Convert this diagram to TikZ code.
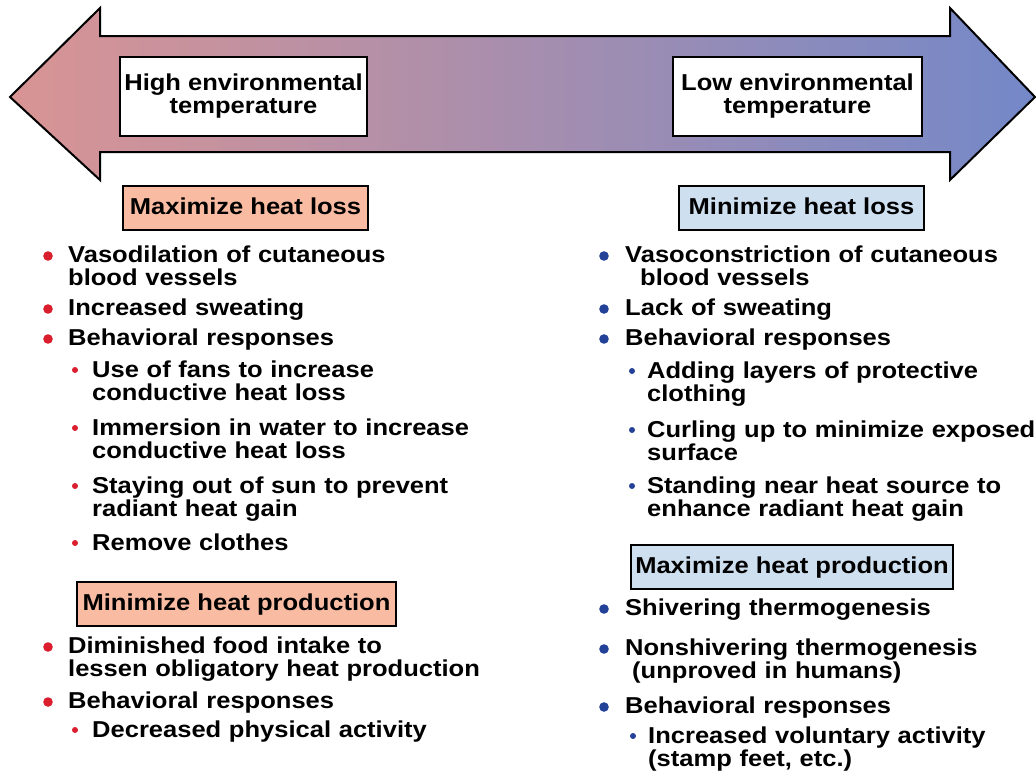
\documentclass[tikz,border=0pt]{standalone}
\usepackage{fontspec}
\setmainfont[FakeStretch=1.11]{Liberation Sans}
\definecolor{warmpink}{RGB}{217,148,148}
\definecolor{lavender}{RGB}{184,160,204}
\definecolor{coolblue}{RGB}{116,136,200}
\definecolor{salmonbox}{RGB}{249,187,162}
\definecolor{icebox}{RGB}{206,223,240}
\definecolor{hotdot}{RGB}{218,30,45}
\definecolor{colddot}{RGB}{35,65,150}
\tikzset{%
  tempbox/.style  = {draw, line width=2pt, fill=white, align=center,%
                     inner sep=0pt, minimum height=79pt},%
  headbox/.style  = {draw, line width=2pt, inner sep=0pt,%
                     text height=17pt, text depth=4pt, minimum height=44pt},%
  hothead/.style  = {headbox, fill=salmonbox},%
  coldhead/.style = {headbox, fill=icebox},%
  entry/.style    = {anchor=base west, inner sep=0pt, text width=420pt, align=left},%
  bigdot/.style   = {radius=4.8pt},%
  smalldot/.style = {radius=3pt}%
}

\begin{document}
\begin{tikzpicture}[x=1pt,y=-1pt,every node/.style={font=\fontsize{23pt}{23pt}\selectfont\bfseries}]
		\useasboundingbox (0,0) rectangle (1036,774);
		% the temperature arrow
		\draw[line width=2pt, left color=warmpink, middle color=lavender, right color=coolblue]
			(10,97) -- (100,8) -- (100,36) -- (950,36) -- (950,8) -- (1035,97)
			-- (950,180) -- (950,152) -- (100,152) -- (100,180) -- cycle;
		\node[tempbox, minimum width=247pt] (high) at (243.5,96.5) {High environmental\\temperature};
		\node[tempbox, minimum width=249pt] (low) at (797.5,96.5) {Low environmental\\temperature};
		% hot side
		\node[hothead, minimum width=245pt] (maxloss) at (245.5,208) {Maximize heat loss};
		\node[entry] (h1) at (68,262) {Vasodilation of cutaneous\\blood vessels};
		\node[entry] (h2) at (68,315) {Increased sweating};
		\node[entry] (h3) at (68,345) {Behavioral responses};
		\node[entry] (h3a) at (92,377) {Use of fans to increase\\conductive heat loss};
		\node[entry] (h3b) at (92,435) {Immersion in water to increase\\conductive heat loss};
		\node[entry] (h3c) at (92,493) {Staying out of sun to prevent\\radiant heat gain};
		\node[entry] (h3d) at (92,550) {Remove clothes};
		\node[hothead, minimum width=319pt] (minprod) at (236.5,603.5) {Minimize heat production};
		\node[entry] (h4) at (68,653) {Diminished food intake to\\lessen obligatory heat production};
		\node[entry] (h5) at (68,708) {Behavioral responses};
		\node[entry] (h5a) at (92,737) {Decreased physical activity};
		\foreach \n in {h1,h2,h3,h4,h5}
			\fill[hotdot] (\n.base west) ++(-20,-6) circle[bigdot];
		\foreach \n in {h3a,h3b,h3c,h3d,h5a}
			\fill[hotdot] (\n.base west) ++(-17,-7) circle[smalldot];
		% cold side
		\node[coldhead, minimum width=245pt] (minloss) at (801.5,208) {Minimize heat loss};
		\node[entry] (c1) at (625,262) {Vasoconstriction of cutaneous\\\hspace*{15pt}blood vessels};
		\node[entry] (c2) at (625,315) {Lack of sweating};
		\node[entry] (c3) at (625,345) {Behavioral responses};
		\node[entry] (c3a) at (647,378) {Adding layers of protective\\clothing};
		\node[entry] (c3b) at (647,437) {Curling up to minimize exposed\\surface};
		\node[entry] (c3c) at (647,493) {Standing near heat source to\\enhance radiant heat gain};
		\node[coldhead, minimum width=322pt] (maxprod) at (792,566.5) {Maximize heat production};
		\node[entry] (c4) at (625,615) {Shivering thermogenesis};
		\node[entry] (c5) at (625,655) {Nonshivering thermogenesis\\\hspace*{7pt}(unproved in humans)};
		\node[entry] (c6) at (625,713) {Behavioral responses};
		\node[entry] (c6a) at (648,743) {Increased voluntary activity\\(stamp feet, etc.)};
		\foreach \n in {c1,c2,c3,c4,c5,c6}
			\fill[colddot] (\n.base west) ++(-21,-6) circle[bigdot];
		\foreach \n in {c3a,c3b,c3c,c6a}
			\fill[colddot] (\n.base west) ++(-15,-7) circle[smalldot];
\end{tikzpicture}
\end{document}
